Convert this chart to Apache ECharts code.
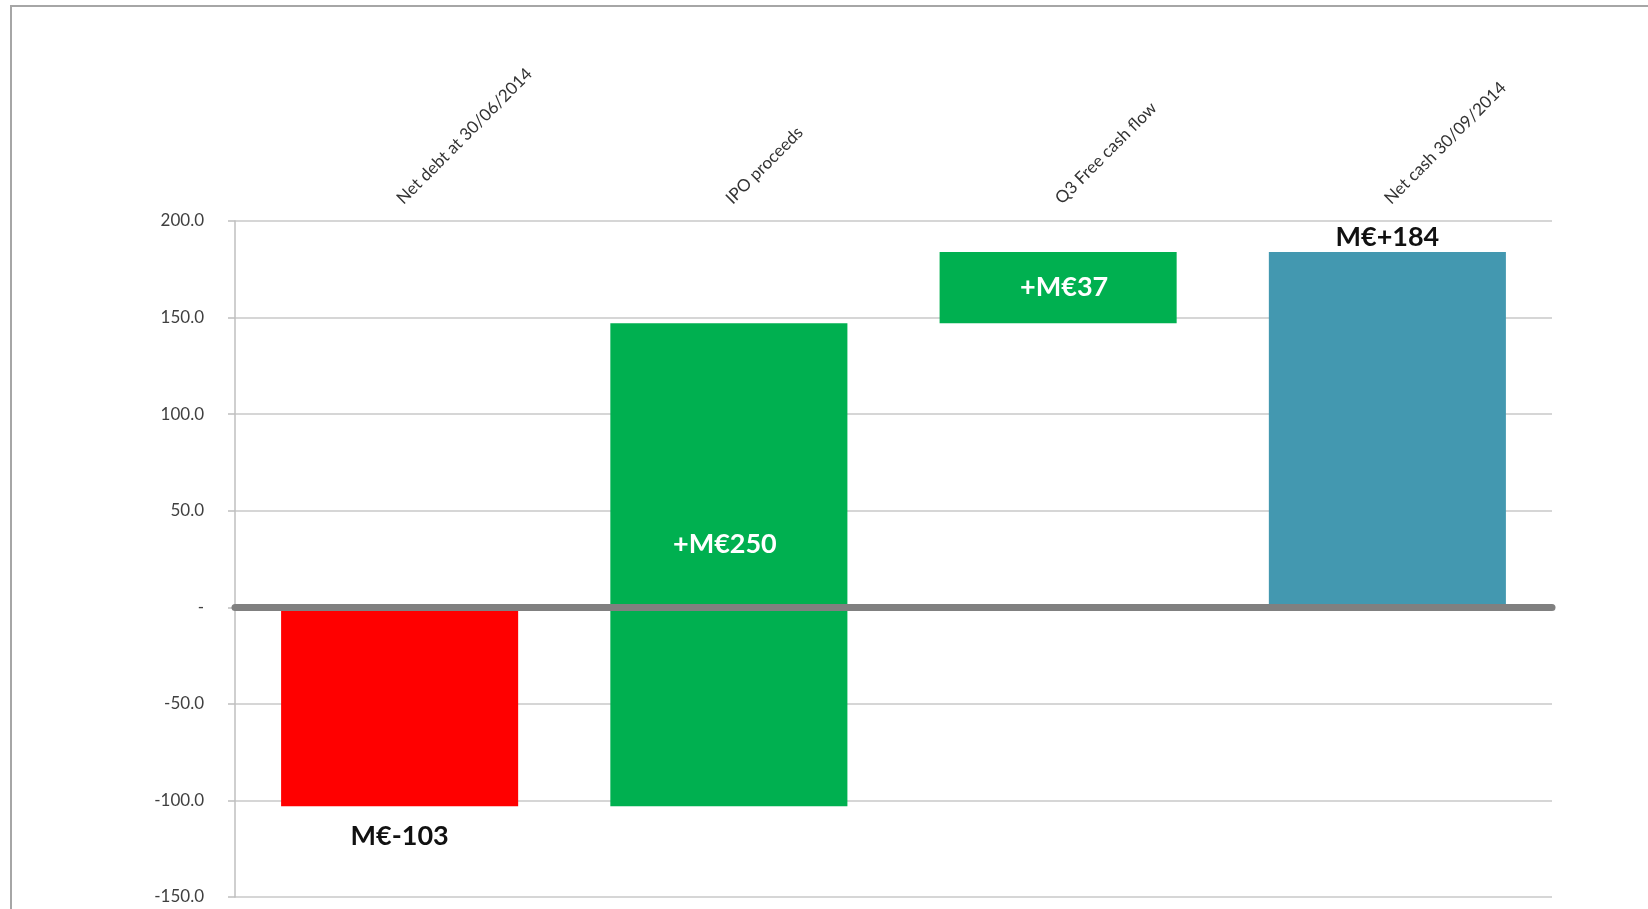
<!DOCTYPE html>
<html>
<head>
<meta charset="utf-8">
<script src="https://cdn.jsdelivr.net/npm/echarts@6/dist/echarts.min.js"></script>
<style>
    html, body { margin: 0; padding: 0; background: #fff; }
    #chart { width: 1648px; height: 909px; }
</style>
</head>
<body>
<div id="chart"></div>
<script>
// waterfall data (M€)
const categories = ['Net debt at 30/06/2014', 'IPO proceeds', 'Q3 Free cash flow', 'Net cash 30/09/2014']
const baseValues = [0, -103, 147, 0]
const stepValues = [-103, 250, 37, 184]
const stepLabels = ['M€-103', '+M€250', '+M€37', 'M€+184']
const yMin = -150
const yMax = 200
const yStep = 50

const barColors = ['#ff0000', '#00b050', '#00b050', '#4398b0']
const labelStyles = [
    { position: 'bottom', distance: 17, color: '#111' },
    { position: 'inside', offset: [-4, -20], color: '#fff' },
    { position: 'inside', offset: [6, 0], color: '#fff' },
    { position: 'top', distance: 1, color: '#111' }
]

const chart = echarts.init(document.getElementById('chart'), undefined, { renderer: 'canvas' })

chart.setOption({
    animation: false,
    backgroundColor: '#fff',
    textStyle: { fontFamily: 'Lato, "Open Sans", sans-serif' },
    graphic: [
        {
            type: 'rect',
            shape: { x: 11, y: 6, width: 1700, height: 1000 },
            style: { fill: 'none', stroke: '#a6a6a6', lineWidth: 2 },
            silent: true
        }
    ],
    grid: { left: 235, right: 96, top: 221, bottom: 12 },
    xAxis: [
        {
            type: 'category',
            data: categories,
            z: 10,
            axisLine: { onZero: true, lineStyle: { color: '#808080', width: 7, cap: 'round' } },
            axisTick: { show: false },
            axisLabel: { show: false },
            splitLine: { show: false }
        },
        {
            type: 'category',
            position: 'top',
            data: categories,
            axisLine: { show: false, onZero: false },
            axisTick: { show: false },
            axisLabel: {
                interval: 0,
                rotate: -45,
                margin: 20,
                fontSize: 17,
                color: '#333'
            },
            splitLine: { show: false }
        }
    ],
    yAxis: {
        type: 'value',
        min: yMin,
        max: yMax,
        interval: yStep,
        axisLine: { show: true, lineStyle: { color: '#bfbfbf', width: 1.5 } },
        axisTick: { show: true, length: 7, lineStyle: { color: '#bfbfbf', width: 1.5 } },
        axisLabel: {
            margin: 31,
            fontSize: 17,
            color: '#404040',
            formatter: v => (v === 0 ? '-' : v.toFixed(1))
        },
        splitLine: { lineStyle: { color: '#c8c8c8', width: 1.5 } }
    },
    series: [
        {
            name: 'base',
            type: 'bar',
            stack: 'wf',
            stackStrategy: 'all',
            barCategoryGap: '28%',
            itemStyle: { color: 'transparent' },
            emphasis: { disabled: true },
            data: baseValues
        },
        {
            name: 'step',
            type: 'bar',
            stack: 'wf',
            stackStrategy: 'all',
            barCategoryGap: '28%',
            data: stepValues.map((v, i) => ({
                value: v,
                itemStyle: { color: barColors[i] },
                label: {
                    show: true,
                    formatter: stepLabels[i],
                    fontSize: 27,
                    fontWeight: 'bold',
                    ...labelStyles[i]
                }
            }))
        }
    ]
})
</script>
</body>
</html>
